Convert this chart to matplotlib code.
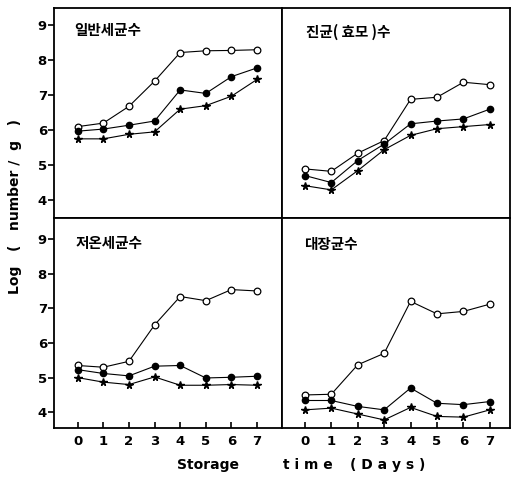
import numpy as np
import matplotlib
matplotlib.use('Agg')
import matplotlib.pyplot as plt

plt.rcParams['font.family'] = ['DejaVu Sans']

days = [0, 1, 2, 3, 4, 5, 6, 7]

# 일반세균수
gen_open = [6.10, 6.20, 6.68, 7.40, 8.22, 8.27, 8.28, 8.30]
gen_fill = [5.97, 6.03, 6.14, 6.26, 7.15, 7.05, 7.53, 7.78]
gen_star = [5.75, 5.75, 5.88, 5.95, 6.60, 6.70, 6.97, 7.45]

# 진균(효모)수
fun_open = [4.89, 4.82, 5.34, 5.70, 6.88, 6.94, 7.37, 7.30]
fun_fill = [4.70, 4.50, 5.13, 5.60, 6.18, 6.26, 6.32, 6.60]
fun_star = [4.41, 4.29, 4.84, 5.44, 5.85, 6.04, 6.10, 6.16]

# 저온세균수
psy_open = [5.35, 5.30, 5.47, 6.52, 7.34, 7.22, 7.54, 7.50]
psy_fill = [5.23, 5.12, 5.05, 5.33, 5.35, 4.99, 5.01, 5.04]
psy_star = [5.00, 4.87, 4.80, 5.02, 4.78, 4.78, 4.80, 4.78]

# 대장균수
col_open = [4.50, 4.52, 5.37, 5.70, 7.20, 6.84, 6.91, 7.12]
col_fill = [4.34, 4.34, 4.17, 4.07, 4.70, 4.26, 4.22, 4.31]
col_star = [4.07, 4.12, 3.95, 3.78, 4.14, 3.88, 3.86, 4.07]

titles = ['일반세균수', '진균( 효모 )수', '저온세균수', '대장균수']
panels = [(gen_open, gen_fill, gen_star), (fun_open, fun_fill, fun_star),
          (psy_open, psy_fill, psy_star), (col_open, col_fill, col_star)]
y_ticks = [4, 5, 6, 7, 8, 9]

fig = plt.figure(figsize=(5.13, 4.79), dpi=100)
gs = fig.add_gridspec(2, 2, left=0.105, right=0.994, top=0.983, bottom=0.106,
                      hspace=0, wspace=0)

ylims = [(3.48, 9.49), (3.48, 9.49), (3.54, 9.60), (3.54, 9.60)]
xlims = [(-0.93, 7.97), (-0.87, 7.76), (-0.93, 7.97), (-0.87, 7.76)]
title_pos = [(0.09, 0.895), (0.105, 0.885), (0.096, 0.88), (0.097, 0.877)]

for i, (op, fl, st) in enumerate(panels):
    r, c = divmod(i, 2)
    ax = fig.add_subplot(gs[r, c])
    ax.plot(days, op, color='black', lw=0.8, marker='o', ms=4.8,
            mfc='white', mec='black', mew=0.9)
    ax.plot(days, fl, color='black', lw=0.8, marker='o', ms=4.5,
            mfc='black', mec='black')
    ax.plot(days, st, color='black', lw=0.8, marker='*', ms=5.5,
            mfc='black', mec='black')
    ax.set_xlim(*xlims[i])
    ax.set_ylim(*ylims[i])
    for sp in ax.spines.values():
        sp.set_linewidth(1.3)
    ax.text(title_pos[i][0], title_pos[i][1], titles[i], transform=ax.transAxes,
            fontsize=10.5, fontweight='bold', va='center', ha='left',
            family=['Noto Sans CJK KR', 'DejaVu Sans'])
    if c == 0:
        ax.set_yticks(y_ticks)
        ax.tick_params(axis='y', direction='out', length=4, width=1.2, pad=1,
                       labelsize=9.5)
        for lb in ax.get_yticklabels():
            lb.set_fontweight('bold')
    else:
        ax.set_yticks([])
    if r == 1:
        ax.set_xticks(days)
        ax.tick_params(axis='x', direction='in', length=4, width=1.2, pad=5,
                       labelsize=9.5)
        for lb in ax.get_xticklabels():
            lb.set_fontweight('bold')
    else:
        ax.set_xticks([])

# axis titles (wide spacing as in the print)
fig.text(0.03, 0.568, 'Log   (   number /  g   )', rotation=90,
         ha='center', va='center', fontsize=10, fontweight='bold')
fig.text(177 / 513, 0.029, 'Storage', ha='left', va='center',
         fontsize=10, fontweight='bold')
fig.text(283 / 513, 0.029, 't i m e', ha='left', va='center',
         fontsize=10, fontweight='bold')
fig.text(350 / 513, 0.029, '( D a y s )', ha='left', va='center',
         fontsize=10, fontweight='bold')

plt.savefig('out.png', dpi=100)
